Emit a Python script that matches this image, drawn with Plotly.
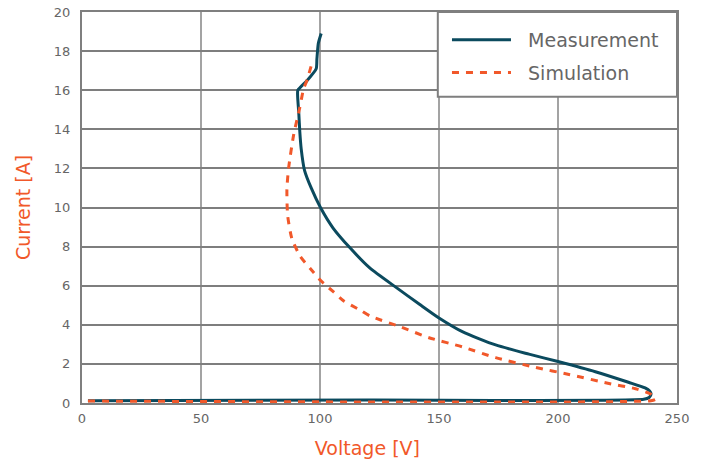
import plotly.graph_objects as go

# Measurement curve (Voltage [V], Current [A])
meas_v = [2.5, 120, 236, 238.3, 239.1, 238.5, 236.6, 229.6, 215.7, 200, 187.8, 173.8,
          159.8, 150, 141.8, 132.1, 120.9, 112.5, 105.5, 100.2, 96.3, 93.5, 92.1, 91.5,
          91.1, 90.6, 90.7, 94.6, 98.4, 98.7, 99.3, 100.5]
meas_i = [0.12, 0.15, 0.19, 0.28, 0.46, 0.62, 0.77, 1.06, 1.6, 2.12, 2.5, 2.97,
          3.65, 4.35, 5.05, 5.9, 6.91, 7.95, 8.95, 10.0, 11.0, 11.9, 13.0, 13.9,
          14.8, 15.7, 16.0, 16.5, 17.1, 17.6, 18.4, 18.9]

# Simulation curve
sim_v = [2.5, 239, 241, 240.5, 238.9, 232.6, 221.4, 204.6, 190.6, 173.8, 159.8, 145.8,
         133.7, 121, 116.9, 110, 105.7, 100.4, 95.9, 91.7, 88.2, 86.4, 86.1, 86.8,
         88.9, 91.4, 93.1, 94.5, 96.9]
sim_i = [0.1, 0.12, 0.19, 0.3, 0.46, 0.73, 1.0, 1.46, 1.82, 2.32, 2.87, 3.34,
         3.9, 4.45, 4.75, 5.22, 5.68, 6.25, 6.88, 7.5, 8.4, 9.6, 10.95, 12.0,
         13.7, 15.05, 16.07, 16.5, 17.5]

x_ticks = [0, 50, 100, 150, 200, 250]
y_ticks = [0, 2, 4, 6, 8, 10, 12, 14, 16, 18, 20]

TEAL = "#0b4a5e"
ORANGE = "#f1582a"
XGRID = "#a3a3a3"
YGRID = "#7e7e7e"
AXIS = "#7f7f7f"
TICKC = "#666666"
FONT = "DejaVu Sans"
NB = "\u00a0"
ZW = "\u200b"

fig = go.Figure()
fig.add_trace(go.Scatter(x=meas_v, y=meas_i, mode="lines", name=NB * 2 + "Measurement",
                         legendgroup="m",
                         line=dict(color=TEAL, width=3, shape="spline", smoothing=0.6)))
fig.add_trace(go.Scatter(x=sim_v, y=sim_i, mode="lines", name=NB * 2 + "Simulation",
                         legendgroup="s",
                         line=dict(color=ORANGE, width=3, dash="7px,7px",
                                   shape="spline", smoothing=0.6)))

# legend frame (white box with grey border in the top-right corner)
fig.add_shape(type="rect", xref="paper", yref="paper",
              x0=0.598, x1=1.0, y0=0.783, y1=1.0,
              line=dict(color=AXIS, width=2), fillcolor="white", layer="above")

fig.update_layout(
    width=705, height=463,
    margin=dict(l=82, r=28, t=12, b=60),
    paper_bgcolor="white", plot_bgcolor="white",
    font=dict(family=FONT, color=TICKC),
    legend=dict(x=0.6134, y=0.977, xanchor="left", yanchor="top",
                bgcolor="rgba(0,0,0,0)", borderwidth=0,
                font=dict(size=19, color=TICKC, family=FONT),
                itemwidth=59, tracegroupgap=5),
    showlegend=True,
)
fig.update_xaxes(range=[0, 250], tickvals=x_ticks, ticktext=[str(v) for v in x_ticks],
                 automargin=False,
                 showgrid=True, gridcolor=XGRID, gridwidth=1.5,
                 showline=True, linecolor=AXIS, linewidth=2, mirror=True,
                 zeroline=False, ticks="", ticklabelstandoff=2,
                 tickfont=dict(size=13, color=TICKC),
                 title=dict(text="Voltage [V]" + NB * 4 + ZW, standoff=17,
                            font=dict(size=19, color=ORANGE, family=FONT)))
fig.update_yaxes(range=[0, 20], tickvals=y_ticks, ticktext=[str(v) for v in y_ticks],
                 automargin=False,
                 showgrid=True, gridcolor=YGRID, gridwidth=1.5,
                 showline=True, linecolor=AXIS, linewidth=2, mirror=True,
                 zeroline=False, ticks="", ticklabelstandoff=7,
                 tickfont=dict(size=13, color=TICKC),
                 title=dict(text="Current [A]", standoff=18,
                            font=dict(size=19, color=ORANGE, family=FONT)))

fig.write_html("out.html", config={"displayModeBar": False},
               post_script="document.body.style.margin='0';")
